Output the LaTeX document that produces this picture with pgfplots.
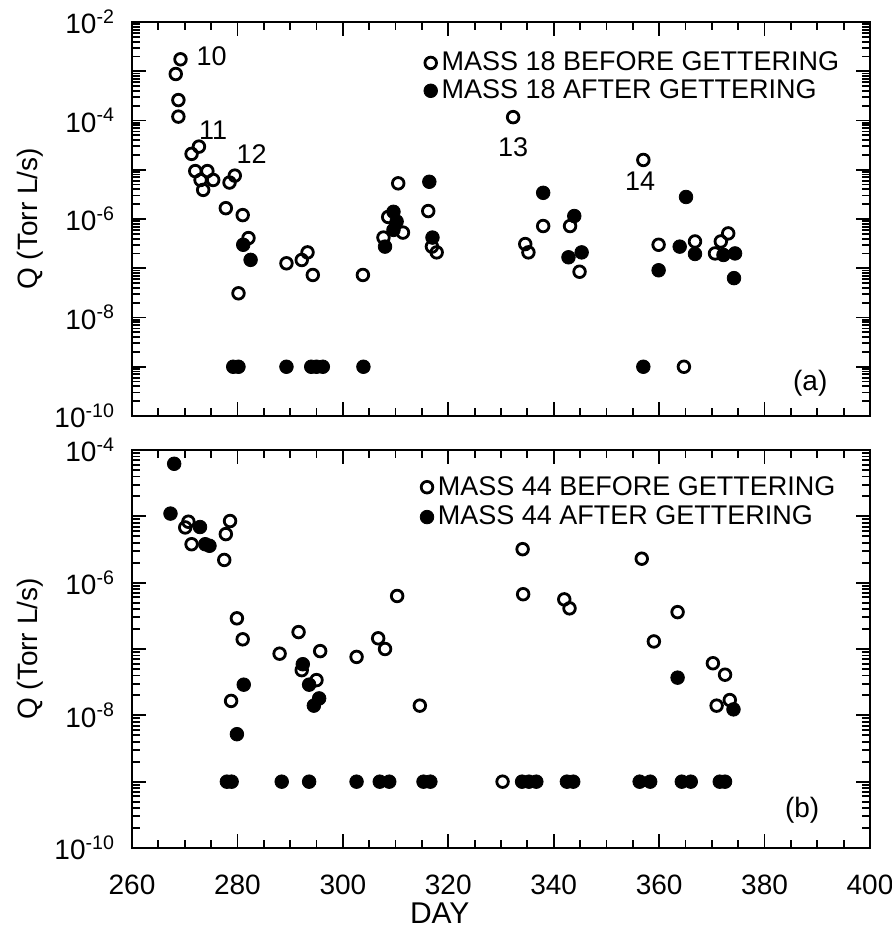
\documentclass[border=0pt]{standalone}
\usepackage{fontspec}
\setmainfont{Liberation Sans}
\usepackage{pgfplots}
\pgfplotsset{compat=1.18}

\begin{document}
\begin{tikzpicture}
% ---------------- panel (a)
\begin{axis}[
  scale only axis, width=369pt, height=197pt,
  at={(66pt,258pt)}, anchor=south west,
  xmin=260, xmax=400, ymode=log, ymin=1e-10, ymax=1e-2,
  xtick={260,280,300,320,340,360,380,400}, minor x tick num=3,
  axis line style={line width=1.4pt},
  every tick/.append style={black, line width=0.9pt},
  major tick length=7pt, minor tick length=4pt,
  tick align=inside,
  clip=false,
  tick label style={font=\fontsize{14}{16}\selectfont},
  yticklabel style={xshift=-5pt},
  ytick={1e-10,1e-9,1e-8,1e-7,1e-6,1e-5,1e-4,1e-3,1e-2},
  yticklabels={10\textsuperscript{-10},{},10\textsuperscript{-8},{},10\textsuperscript{-6},{},10\textsuperscript{-4},{},10\textsuperscript{-2}},
  xticklabels={},
  ylabel={Q (Torr L/s)},
  ylabel style={at={(axis description cs:-0.138,0.5)}, anchor=center, font=\fontsize{14}{16}\selectfont},
  legend cell align=left,
  legend style={draw=none, fill=none, at={(rel axis cs:0.395,0.935)}, anchor=north west,
    font=\fontsize{13.5}{15}\selectfont, row sep=-1pt, inner sep=0pt},
]
\addplot[only marks, mark=o, mark size=2.9pt, mark options={line width=1.4pt}, black] coordinates {
(269.2,1.75e-3) (268.3,8.8e-4) (268.8,2.6e-4) (268.8,1.2e-4) (272.7,2.95e-5) (271.3,2.1e-5)
(272.0,9.4e-6) (274.3,9.4e-6) (273.0,6.2e-6) (275.4,6.2e-6) (273.5,3.9e-6) (279.5,7.6e-6)
(278.5,5.5e-6) (277.8,1.66e-6) (281.0,1.2e-6) (282.1,4.1e-7) (280.2,3.1e-8) (289.3,1.26e-7)
(292.2,1.47e-7) (293.3,2.1e-7) (294.3,7.3e-8) (303.8,7.3e-8) (310.5,5.3e-6) (308.6,1.1e-6)
(311.4,5.3e-7) (307.7,4.2e-7) (316.2,1.45e-6) (316.9,2.75e-7) (317.8,2.1e-7) (332.3,1.17e-4)
(338.0,7.2e-7) (334.6,3.1e-7) (335.2,2.1e-7) (343.1,7.2e-7) (344.9,8.5e-8) (357.0,1.58e-5)
(359.9,3.0e-7) (366.8,3.5e-7) (373.1,5.1e-7) (371.7,3.5e-7) (370.6,2.0e-7) (364.7,1e-9)
};
\addlegendentry{MASS 18 BEFORE GETTERING}
\addplot[only marks, mark=*, mark size=3.4pt, black] coordinates {
(281.1,3.0e-7) (282.5,1.48e-7) (316.4,5.7e-6) (309.6,1.4e-6) (310.2,8.9e-7) (309.6,6.0e-7)
(308.0,2.75e-7) (317.0,4.2e-7) (338.0,3.4e-6) (343.9,1.15e-6) (345.3,2.1e-7) (342.8,1.67e-7)
(365.1,2.8e-6) (359.9,9.1e-8) (363.9,2.75e-7) (366.8,1.95e-7) (372.2,1.86e-7) (374.4,2.0e-7)
(374.2,6.3e-8) (279.2,1e-9) (280.2,1e-9) (289.3,1e-9) (294.0,1e-9) (295.0,1e-9) (296.2,1e-9)
(303.9,1e-9) (357.0,1e-9)
};
\addlegendentry{MASS 18 AFTER GETTERING}
\node[font=\fontsize{13.5}{15}\selectfont] at (axis cs:275.1,2.0e-3) {10};
\node[font=\fontsize{13.5}{15}\selectfont] at (axis cs:275.4,6.5e-5) {11};
\node[font=\fontsize{13.5}{15}\selectfont] at (axis cs:282.7,2.1e-5) {12};
\node[font=\fontsize{13.5}{15}\selectfont] at (axis cs:332.3,2.9e-5) {13};
\node[font=\fontsize{13.5}{15}\selectfont] at (axis cs:356.4,5.8e-6) {14};
\node[font=\fontsize{14}{16}\selectfont] at (rel axis cs:0.919,0.084) {(a)};
\end{axis}
% ---------------- panel (b)
\begin{axis}[
  scale only axis, width=369pt, height=199pt,
  at={(66pt,42pt)}, anchor=south west,
  xmin=260, xmax=400, ymode=log, ymin=1e-10, ymax=1e-4,
  xtick={260,280,300,320,340,360,380,400}, minor x tick num=3,
  axis line style={line width=1.4pt},
  every tick/.append style={black, line width=0.9pt},
  major tick length=7pt, minor tick length=4pt,
  tick align=inside,
  clip=false,
  /pgf/number format/assume math mode=true,
  tick label style={font=\fontsize{14}{16}\selectfont},
  yticklabel style={xshift=-5pt},
  xticklabel style={yshift=-10pt},
  ytick={1e-10,1e-9,1e-8,1e-7,1e-6,1e-5,1e-4},
  yticklabels={10\textsuperscript{-10},{},10\textsuperscript{-8},{},10\textsuperscript{-6},{},10\textsuperscript{-4}},
  ylabel={Q (Torr L/s)},
  ylabel style={at={(axis description cs:-0.138,0.5)}, anchor=center, font=\fontsize{14}{16}\selectfont},
  xlabel={DAY},
  xlabel style={at={(axis description cs:0.417,-0.163)}, anchor=center, font=\fontsize{15}{17}\selectfont},
  legend cell align=left,
  legend style={draw=none, fill=none, at={(rel axis cs:0.39,0.945)}, anchor=north west,
    font=\fontsize{13.5}{15}\selectfont, row sep=0pt, inner sep=0pt},
]
\addplot[only marks, mark=o, mark size=2.9pt, mark options={line width=1.4pt}, black] coordinates {
(270.7,8.3e-6) (270.1,6.8e-6) (271.3,3.8e-6) (278.6,8.5e-6) (277.8,5.4e-6) (277.5,2.2e-6)
(279.9,2.9e-7) (281.0,1.4e-7) (278.8,1.65e-8) (288.0,8.5e-8) (291.6,1.8e-7) (295.7,9.3e-8)
(292.2,4.8e-8) (295.0,3.4e-8) (302.6,7.6e-8) (306.7,1.45e-7) (308.0,1.0e-7) (310.3,6.3e-7)
(314.6,1.4e-8) (334.1,3.2e-6) (334.2,6.7e-7) (342.0,5.6e-7) (343.0,4.1e-7) (356.7,2.3e-6)
(363.5,3.6e-7) (359.0,1.3e-7) (370.2,6.1e-8) (372.5,4.1e-8) (370.9,1.4e-8) (373.4,1.7e-8)
(330.3,1e-9)
};
\addlegendentry{MASS 44 BEFORE GETTERING}
\addplot[only marks, mark=*, mark size=3.4pt, black] coordinates {
(268.0,6.2e-5) (267.3,1.1e-5) (272.9,6.9e-6) (273.9,3.8e-6) (274.7,3.6e-6) (281.2,2.9e-8)
(279.9,5.2e-9) (292.4,5.9e-8) (293.6,2.9e-8) (294.5,1.4e-8) (295.5,1.8e-8) (363.5,3.7e-8)
(374.1,1.23e-8)
(278.0,1e-9) (278.9,1e-9) (288.4,1e-9) (293.6,1e-9) (302.6,1e-9) (307.0,1e-9) (308.8,1e-9)
(315.3,1e-9) (316.6,1e-9) (334.0,1e-9) (335.3,1e-9) (336.7,1e-9) (342.5,1e-9) (343.7,1e-9)
(356.3,1e-9) (358.3,1e-9) (364.3,1e-9) (366.0,1e-9) (371.5,1e-9) (372.5,1e-9)
};
\addlegendentry{MASS 44 AFTER GETTERING}
\node[font=\fontsize{14}{16}\selectfont] at (rel axis cs:0.908,0.095) {(b)};
\end{axis}
\pgfresetboundingbox
\path[use as bounding box] (0pt,0pt) rectangle (445.5pt,466pt);
\end{tikzpicture}
\end{document}
